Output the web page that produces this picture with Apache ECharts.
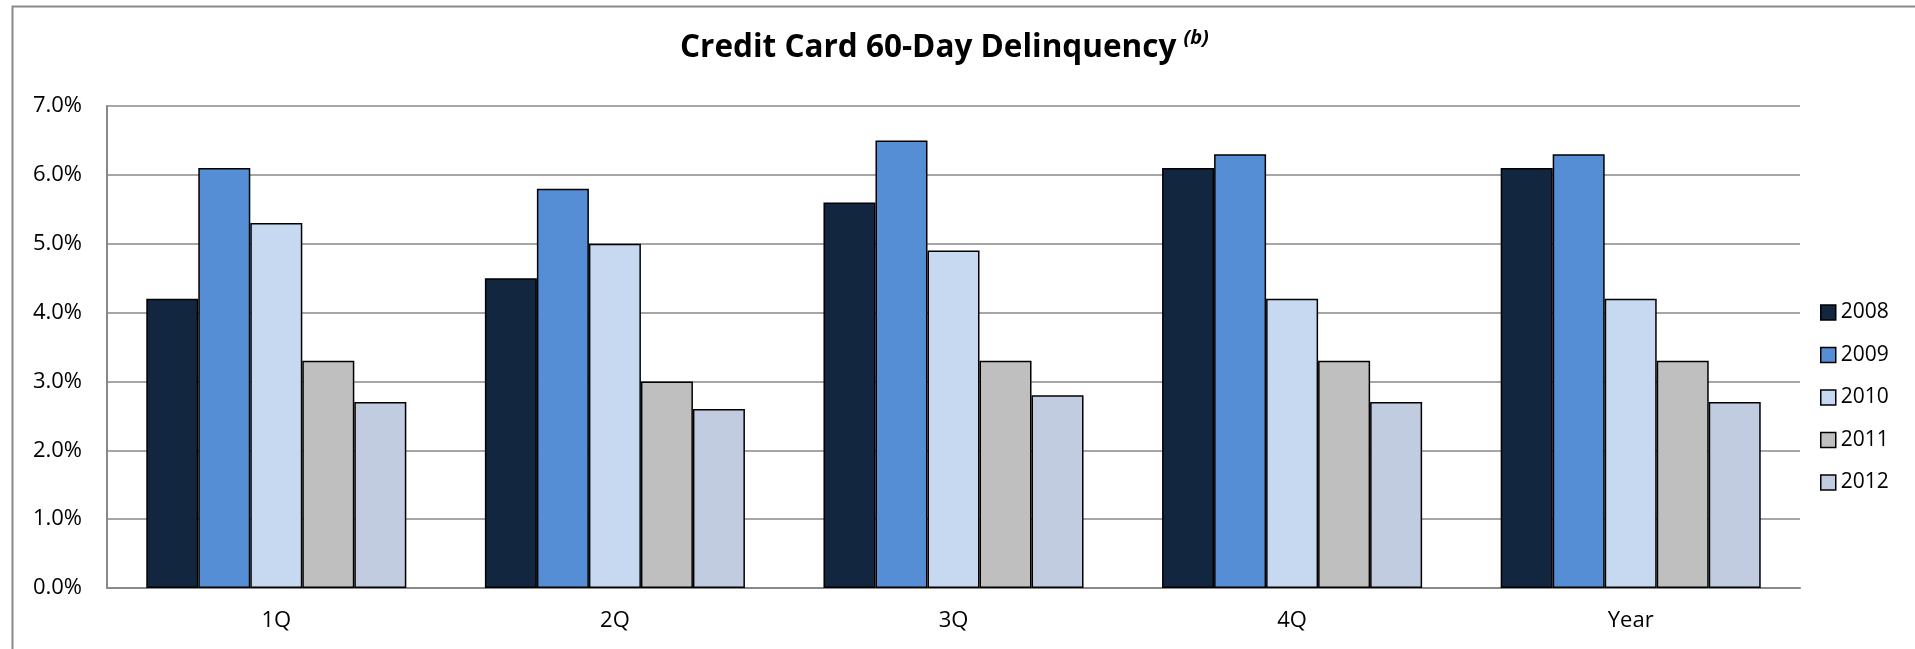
<!DOCTYPE html>
<html>
<head>
<meta charset="utf-8">
<script src="https://cdn.jsdelivr.net/npm/echarts@6/dist/echarts.min.js"></script>
<style>html,body{margin:0;padding:0;background:#fff;}#chart{width:1915px;height:649px;}</style>
</head>
<body>
<div id="chart"></div>
<script>
const categories = ['1Q', '2Q', '3Q', '4Q', 'Year'];
const seriesNames = ['2008', '2009', '2010', '2011', '2012'];
const v2008 = [4.2, 4.5, 5.6, 6.1, 6.1];
const v2009 = [6.1, 5.8, 6.5, 6.3, 6.3];
const v2010 = [5.3, 5.0, 4.9, 4.2, 4.2];
const v2011 = [3.3, 3.0, 3.3, 3.3, 3.3];
const v2012 = [2.7, 2.6, 2.8, 2.7, 2.7];
const seriesValues = [v2008, v2009, v2010, v2011, v2012];
const colors = ['#12263F', '#558ED5', '#C6D9F1', '#BFBFBF', '#C1CCE0'];
const FONT = 'Open Sans';

const chart = echarts.init(document.getElementById('chart'), null, {renderer: 'canvas'});
chart.setOption({
  animation: false,
  backgroundColor: '#fff',
  title: {
    text: '{a|Credit Card 60-Day Delinquency}{b|(b)}',
    left: 675,
    top: 23,
    textStyle: {
      rich: {
        a: {fontFamily: FONT, fontWeight: 'bold', fontSize: 31.5, color: '#000', lineHeight: 40},
        b: {fontFamily: FONT, fontWeight: 'bold', fontStyle: 'italic', fontSize: 20, color: '#000', verticalAlign: 'top', lineHeight: 24, padding: [0, 0, 0, 7]}
      }
    }
  },
  graphic: [{
    type: 'rect',
    shape: {x: 12.5, y: 6.5, width: 2000, height: 1000},
    style: {fill: 'none', stroke: '#898989', lineWidth: 2},
    silent: true, z: -10
  }],
  legend: {
    orient: 'vertical',
    left: 1815,
    top: 297,
    itemWidth: 15,
    itemHeight: 15,
    itemGap: 21.5,
    icon: 'rect',
    data: seriesNames,
    itemStyle: {borderColor: '#000', borderWidth: 1.5},
    textStyle: {fontFamily: FONT, fontSize: 21, color: '#000'}
  },
  grid: {left: 107, right: 115, top: 106, bottom: 61, containLabel: false},
  xAxis: {
    type: 'category',
    data: categories,
    axisLine: {show: true, lineStyle: {color: '#898989', width: 2}},
    axisTick: {show: false},
    axisLabel: {fontFamily: FONT, fontSize: 22, color: '#000', margin: 22}
  },
  yAxis: {
    type: 'value',
    min: 0,
    max: 7,
    interval: 1,
    axisLine: {show: true, lineStyle: {color: '#898989', width: 2}},
    axisTick: {show: false},
    splitLine: {show: true, lineStyle: {color: '#898989', width: 1.5}},
    axisLabel: {fontFamily: FONT, fontSize: 22, color: '#000', margin: 25,
      formatter: v => v.toFixed(1) + '%'}
  },
  series: seriesNames.map((name, i) => ({
    name: name,
    type: 'bar',
    data: seriesValues[i],
    barGap: '0%',
    barCategoryGap: '23.2%',
    itemStyle: {color: colors[i], borderColor: '#000', borderWidth: 1.5}
  }))
});
</script>
</body>
</html>
